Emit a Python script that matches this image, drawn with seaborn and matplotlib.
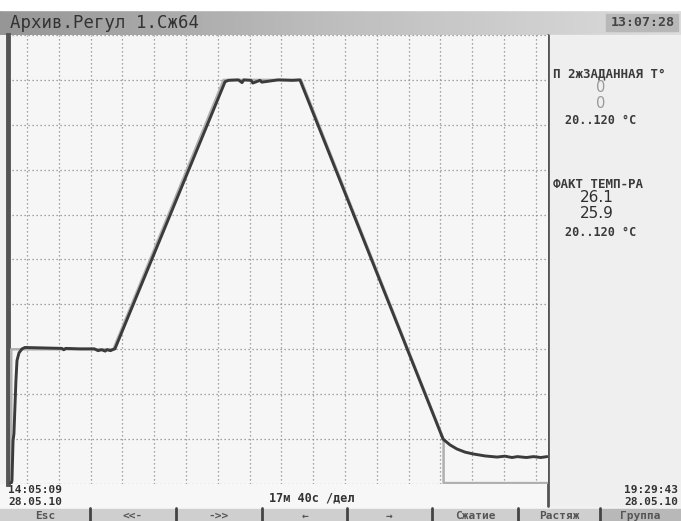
import numpy as np
import pandas as pd
import matplotlib
matplotlib.use("Agg")
import matplotlib.pyplot as plt
from matplotlib.patches import Rectangle
import seaborn as sns

# ── Data ───────────────────────────────────────────────────────
# time in minutes from the left edge of the trend window, temp in °C
fact_t = [1.0, 2.2, 2.8, 3.3, 4.4, 5.0, 6.1, 7.8, 9.4, 20, 30, 31, 32, 40,
          48, 50, 52, 54, 55, 57, 58, 59.4, 120.6, 122.5, 128, 130, 131,
          135, 136, 140, 141, 150, 158, 162.2, 241.7, 245.6, 249.4, 253.9,
          258.3, 265, 271.7, 276, 280, 283, 288, 292, 296, 299.5]
fact_T = [19.5, 20.7, 29.6, 31.2, 43.0, 47.5, 49.2, 50.1, 50.4, 50.3, 50.2,
          49.9, 50.2, 50.1, 50.1, 49.7, 49.9, 49.6, 49.9, 49.7, 49.9, 50.1,
          109.6, 109.9, 110.0, 109.4, 110.0, 109.9, 109.3, 109.9, 109.5,
          110.0, 109.9, 110.0, 30.0, 28.7, 27.8, 27.1, 26.7, 26.25, 26.0,
          26.2, 25.9, 26.1, 25.9, 26.1, 25.9, 26.1]

set_t = [1.8, 1.8, 9.0, 58.5, 119.8, 162.8, 242.0, 242.0, 300]
set_T = [20.2, 50.0, 50.0, 50.0, 110.0, 110.0, 30.0, 20.2, 20.2]

grid_step = 17.667            # 17м 40с per division
grid_first = 10.56
buttons = ["Esc", "<<-", "->>", "\u2190", "\u2192", "Сжатие", "Растяж", "Группа"]
button_edges = [0, 90, 176, 262, 347, 432, 518, 600, 681]

W, H = 681, 521
MONO = "DejaVu Sans Mono"
THIN = "DejaVu Sans"

sns.set_style("white")
fig = plt.figure(figsize=(W / 100, H / 100), dpi=100)
fig.patch.set_facecolor("#f2f2f2")

# background / screen decorations in pixel coords
bg = fig.add_axes([0, 0, 1, 1], zorder=0)
bg.set_xlim(0, W)
bg.set_ylim(H, 0)
bg.axis("off")

# title bar
grad = np.linspace(0, 1, 256).reshape(1, -1)
bg.imshow(grad, extent=(0, W, 35, 10), aspect="auto", cmap="Greys_r",
          vmin=-1.9, vmax=1.9, zorder=1)
bg.add_patch(Rectangle((0, 0), W, 10, color="white", zorder=1))
bg.text(10, 23, "Архив.Регул 1.Сж64", fontsize=12.5, family=MONO,
        color="#333333", va="center", zorder=3)
bg.add_patch(Rectangle((606, 14), 72, 17, color="#b8b8b8", zorder=2))
bg.text(675, 23, "13:07:28", fontsize=9.5, family=MONO, weight="bold",
        color="#444444", va="center", ha="right", zorder=3)

# right panel
bg.add_patch(Rectangle((548, 35), W - 548, 470, color="#efefef", zorder=1))
bg.plot([548, 548], [35, 506], color="#555555", lw=2, zorder=3)
bg.text(553, 74, "П 2жЗАДАННАЯ Т°", fontsize=9, family=MONO, weight="bold",
        color="#3a3a3a", va="center", zorder=3)
bg.text(601, 88, "0", fontsize=10.5, family=THIN, color="#9a9a9a",
        va="center", ha="center", zorder=3)
bg.text(601, 103, "0", fontsize=10.5, family=THIN, color="#9a9a9a",
        va="center", ha="center", zorder=3)
bg.text(565, 121, "20..120 °C", fontsize=8.5, family=MONO, weight="bold",
        color="#3a3a3a", va="center", zorder=3)
bg.text(553, 184, "ФАКТ ТЕМП-РА", fontsize=9, family=MONO, weight="bold",
        color="#3a3a3a", va="center", zorder=3)
bg.text(597, 197, "26.1", fontsize=11, family=THIN, color="#2f2f2f",
        va="center", ha="center", zorder=3)
bg.text(597, 214, "25.9", fontsize=11, family=THIN, color="#2f2f2f",
        va="center", ha="center", zorder=3)
bg.text(565, 232, "20..120 °C", fontsize=8.5, family=MONO, weight="bold",
        color="#3a3a3a", va="center", zorder=3)

# bottom strip: timestamps and scale
bg.add_patch(Rectangle((0, 484), 548, 26, color="#f7f7f7", zorder=1))
for x, ha, stamp in [(8, "left", "14:05:09"), (678, "right", "19:29:43")]:
    bg.text(x, 485, stamp, fontsize=8, family=MONO, weight="bold",
            color="#333333", va="top", ha=ha, zorder=3)
    bg.text(x, 497, "28.05.10", fontsize=8, family=MONO, weight="bold",
            color="#333333", va="top", ha=ha, zorder=3)
bg.text(312, 498, "17м 40с /дел", fontsize=8.5, family=MONO, weight="bold",
        color="#333333", va="center", ha="center", zorder=3)

# buttons
for i, lab in enumerate(buttons):
    x0, x1 = button_edges[i], button_edges[i + 1]
    face = "#b8b8b8" if lab == "Группа" else "#cfcfcf"
    bg.add_patch(Rectangle((x0, 509), x1 - x0, 12, color=face, zorder=1))
    if i > 0:
        bg.plot([x0, x0], [508, 521], color="#444444", lw=2, zorder=3)
    bg.text((x0 + x1) / 2, 516, lab, fontsize=8, family=MONO, weight="bold",
            color="#555555", va="center", ha="center", zorder=3)

# ── Trend axes ────────────────────────────────────────────────
ax = fig.add_axes([8 / W, (H - 484) / H, 540 / W, 449 / H], zorder=2)
ax.set_facecolor("#f6f6f6")

df_fact = pd.DataFrame({"t": fact_t, "T": fact_T})
df_set = pd.DataFrame({"t": set_t, "T": set_T})
sns.lineplot(data=df_set, x="t", y="T", ax=ax, color="#b0b0b0", lw=1.8,
             estimator=None, sort=False, zorder=3)
sns.lineplot(data=df_fact, x="t", y="T", ax=ax, color="#3b3b3b", lw=2.1,
             estimator=None, sort=False, zorder=4)

ax.set_xlim(0, 300)
ax.set_ylim(20, 120)
ax.set_xticks(np.arange(grid_first, 300, grid_step))
ax.set_yticks(np.arange(20, 121, 10))
ax.grid(True, color="#8a8a8a", lw=0.9, linestyle=(0, (1, 2.2)))
ax.tick_params(length=0, labelbottom=False, labelleft=False)
ax.set_xlabel("")
ax.set_ylabel("")
for side in ["top", "right", "bottom"]:
    ax.spines[side].set_visible(False)
ax.spines["left"].set_color("#555555")
ax.spines["left"].set_linewidth(3.5)

fig.savefig("out.png", dpi=100)
